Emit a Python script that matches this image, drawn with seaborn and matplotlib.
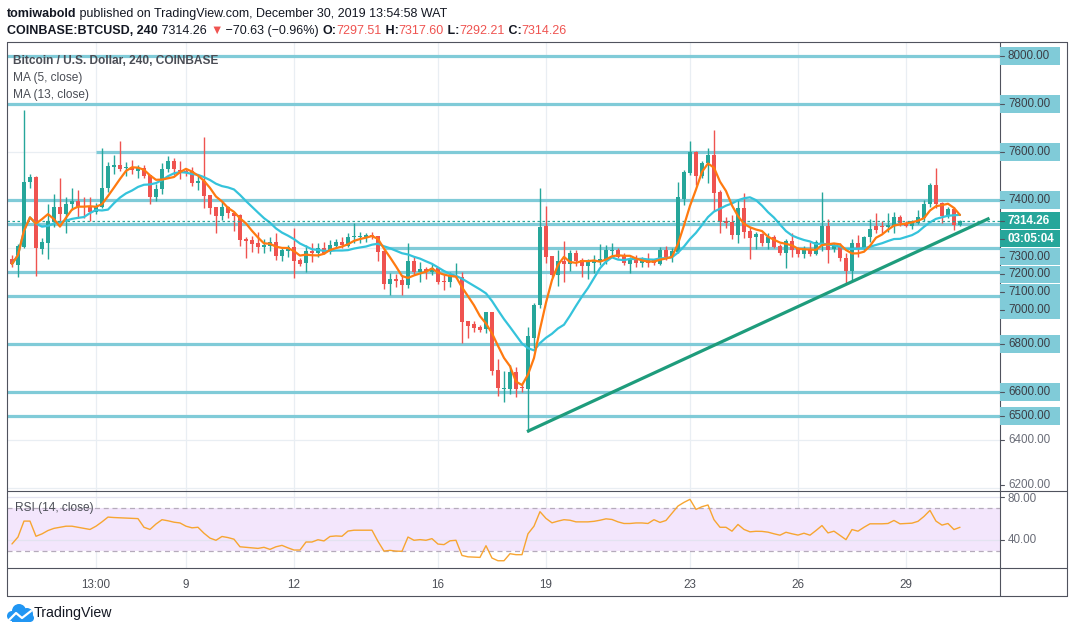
import numpy as np
import pandas as pd
import matplotlib
matplotlib.use("Agg")
import matplotlib.pyplot as plt
import matplotlib.transforms as mtransforms
from matplotlib.lines import Line2D
from matplotlib.patches import Rectangle, Circle
import seaborn as sns

# BTCUSD 240 candles (WAT), first candle Dec 4 05:00
start_time = "2019-12-04 05:00"
opens = [7154, 7129, 7205, 7476, 7497, 7197, 7222, 7310, 7370, 7340,
         7382, 7396, 7375, 7372, 7349, 7372, 7449, 7539, 7546, 7532,
         7539, 7522, 7535, 7504, 7414, 7444, 7528, 7562, 7525, 7520,
         7522, 7472, 7479, 7421, 7371, 7335, 7371, 7347, 7337, 7237,
         7233, 7222, 7205, 7210, 7226, 7168, 7189, 7203, 7150, 7137,
         7187, 7179, 7199, 7183, 7210, 7226, 7210, 7245, 7247, 7247,
         7254, 7250, 7189, 7050, 7071, 7067, 7046, 7146, 7101, 7112,
         7101, 7115, 7064, 7057, 7078, 7078, 6896, 6882, 6872, 6862,
         6932, 6692, 6612, 6612, 6685, 6621, 6612, 6824, 6962, 7292,
         7167, 7087, 7146, 7133, 7178, 7150, 7126, 7139, 7143, 7150,
         7189, 7192, 7167, 7133, 7157, 7136, 7150, 7150, 7133, 7192,
         7161, 7185, 7404, 7514, 7601, 7500, 7553, 7587, 7435, 7314,
         7310, 7254, 7365, 7272, 7245, 7258, 7222, 7245, 7208, 7181,
         7231, 7199, 7175, 7195, 7175, 7220, 7292, 7195, 7208, 7157,
         7105, 7220, 7195, 7245, 7292, 7290, 7287, 7292, 7331, 7305,
         7292, 7305, 7324, 7383, 7462, 7389, 7333, 7361, 7297.51]
highs = [7171, 7215, 7775, 7510, 7500, 7243, 7383, 7425, 7493, 7414,
         7449, 7442, 7414, 7414, 7386, 7615, 7560, 7587, 7646, 7560,
         7567, 7546, 7546, 7504, 7465, 7553, 7583, 7575, 7562, 7530,
         7536, 7501, 7664, 7421, 7371, 7396, 7375, 7350, 7340, 7245,
         7250, 7265, 7236, 7247, 7261, 7205, 7212, 7282, 7157, 7212,
         7222, 7220, 7226, 7233, 7236, 7247, 7261, 7303, 7268, 7264,
         7265, 7250, 7192, 7094, 7090, 7087, 7220, 7168, 7140, 7122,
         7132, 7122, 7087, 7101, 7136, 7099, 6896, 6896, 6879, 6933,
         6933, 6737, 6689, 6712, 6705, 6636, 6872, 6971, 7449, 7375,
         7167, 7192, 7230, 7192, 7192, 7157, 7153, 7171, 7217, 7212,
         7222, 7199, 7178, 7164, 7171, 7161, 7178, 7155, 7203, 7208,
         7199, 7476, 7525, 7646, 7605, 7564, 7618, 7692, 7440, 7331,
         7337, 7400, 7430, 7289, 7268, 7264, 7261, 7254, 7217, 7236,
         7261, 7205, 7208, 7226, 7233, 7435, 7320, 7222, 7220, 7181,
         7236, 7254, 7250, 7320, 7345, 7314, 7345, 7351, 7337, 7312,
         7317, 7358, 7400, 7469, 7532, 7392, 7370, 7370, 7317.60]
lows = [7121, 7079, 7200, 7451, 7085, 7174, 7153, 7289, 7303, 7261,
        7358, 7326, 7326, 7312, 7340, 7368, 7432, 7510, 7521, 7500,
        7510, 7490, 7490, 7383, 7396, 7425, 7515, 7505, 7486, 7500,
        7458, 7442, 7368, 7340, 7264, 7317, 7324, 7272, 7210, 7157,
        7185, 7181, 7178, 7189, 7150, 7147, 7164, 7074, 7125, 7101,
        7143, 7164, 7174, 7175, 7199, 7199, 7205, 7222, 7220, 7226,
        7236, 7146, 7030, 7004, 7039, 7004, 7032, 7087, 7057, 7071,
        7087, 7049, 7025, 7039, 7074, 6803, 6826, 6849, 6851, 6844,
        6671, 6585, 6557, 6590, 6581, 6601, 6435, 6782, 6950, 7136,
        7080, 7042, 7057, 7105, 7125, 7080, 7071, 7094, 7129, 7133,
        7161, 7157, 7129, 7097, 7122, 7122, 7122, 7130, 7129, 7150,
        7143, 7178, 7379, 7504, 7462, 7492, 7469, 7355, 7261, 7282,
        7236, 7220, 7240, 7153, 7195, 7208, 7195, 7199, 7171, 7115,
        7164, 7164, 7157, 7167, 7171, 7189, 7139, 7185, 7146, 7053,
        7067, 7161, 7192, 7226, 7261, 7264, 7268, 7261, 7292, 7286,
        7278, 7300, 7314, 7372, 7365, 7305, 7325, 7275, 7292.21]
closes = [7133, 7208, 7474, 7495, 7199, 7225, 7312, 7370, 7340, 7383,
          7396, 7372, 7370, 7349, 7372, 7449, 7542, 7546, 7529, 7539,
          7525, 7535, 7501, 7414, 7446, 7529, 7562, 7528, 7515, 7515,
          7472, 7479, 7418, 7368, 7335, 7371, 7344, 7335, 7233, 7229,
          7217, 7205, 7212, 7226, 7167, 7192, 7203, 7147, 7133, 7187,
          7179, 7199, 7181, 7212, 7226, 7212, 7247, 7251, 7251, 7254,
          7247, 7185, 7050, 7071, 7064, 7046, 7146, 7101, 7112, 7101,
          7115, 7060, 7057, 7085, 7085, 6893, 6876, 6868, 6858, 6932,
          6689, 6615, 6617, 6685, 6612, 6615, 6833, 6962, 7286, 7164,
          7087, 7146, 7133, 7178, 7147, 7125, 7143, 7147, 7153, 7192,
          7192, 7164, 7136, 7153, 7136, 7153, 7139, 7136, 7192, 7161,
          7187, 7411, 7518, 7601, 7500, 7555, 7587, 7431, 7310, 7305,
          7254, 7365, 7268, 7240, 7258, 7222, 7247, 7205, 7181, 7231,
          7192, 7175, 7195, 7175, 7224, 7292, 7192, 7212, 7157, 7105,
          7220, 7195, 7245, 7278, 7275, 7287, 7296, 7331, 7303, 7292,
          7312, 7331, 7383, 7462, 7383, 7333, 7361, 7296, 7314.26]

# RSI (14, close) as drawn in the lower pane
rsi_values = [36.6, 43, 57.7, 57.7, 43.7, 45.9, 49, 51, 52, 53,
              53, 52, 51, 50, 53, 57, 61.4, 61, 60.8, 60.5,
              60.2, 60, 52, 50, 55, 59, 58, 56.7, 56, 53,
              51.5, 52, 46.5, 42, 40, 43.5, 42.5, 41, 34, 33.5,
              33, 32.5, 33.5, 31.6, 34, 35.3, 33, 31, 31, 38.4,
              38.4, 40.5, 39.4, 43.5, 44, 43.7, 48.5, 49.3, 49.3, 49.3,
              49.3, 39, 30, 30.7, 30, 29.8, 43, 40, 40.6, 40,
              41.5, 36.5, 36, 39.5, 40, 26, 24.7, 24.4, 24.2, 35,
              23.6, 21.1, 21.1, 27.6, 26.7, 26.7, 46, 53, 66.4, 60.2,
              56.1, 57.7, 59, 58.5, 57, 57, 57, 57.5, 58.5, 59.8,
              59.2, 57, 55.5, 55.5, 56, 56, 55.5, 59, 56.5, 58.3,
              65, 71.6, 75, 77.8, 68.5, 71, 72.6, 59, 52, 52,
              48.4, 54.6, 50, 47.8, 48.3, 48.2, 47.5, 46, 44.7, 47.4,
              46, 44.8, 46.5, 44.7, 49, 53.6, 46.8, 48.4, 44.5, 40.6,
              49.9, 48.4, 52, 55.2, 55.2, 55.2, 55.5, 58.3, 55.2, 55.5,
              55.8, 57.5, 62, 67.6, 57.7, 54, 55.5, 49.9, 52]

# horizontal levels drawn by the author, with the time each one starts
level_prices = [8000, 7800, 7600, 7400, 7300, 7200, 7100, 7000, 6800, 6600, 6500]
level_starts = ["2019-12-04 01:00", "2019-12-04 01:00", "2019-12-06 13:00",
                "2019-12-04 01:00", "2019-12-04 01:00", "2019-12-14 13:00",
                "2019-12-04 01:00", "2019-12-04 01:00", "2019-12-04 01:00",
                "2019-12-04 01:00", "2019-12-04 01:00"]

# rising trendline
trend_times = ["2019-12-18 12:20", "2019-12-31 08:40"]
trend_prices = [6435, 7324]

# time axis labels
tick_times = ["2019-12-06 13:00", "2019-12-09 01:00", "2019-12-12 01:00", "2019-12-16 01:00",
              "2019-12-19 01:00", "2019-12-23 01:00", "2019-12-26 01:00", "2019-12-29 01:00"]
tick_labels = ["13:00", "9", "12", "16", "19", "23", "26", "29"]

# price scale labels: text, price where the box sits, style
scale_labels = [("8000.00", 8000, "lvl"), ("7800.00", 7800, "lvl"), ("7600.00", 7600, "lvl"),
                ("7400.00", 7400, "lvl"), ("7314.26", 7314.26, "last"), ("03:05:04", 7239, "last"),
                ("7300.00", 7164, "lvl"), ("7200.00", 7090, "lvl"), ("7100.00", 7015, "lvl"),
                ("7000.00", 6942, "lvl"), ("6800.00", 6800, "lvl"), ("6600.00", 6600, "lvl"),
                ("6500.00", 6500, "lvl"), ("6400.00", 6400, "plain"), ("6200.00", 6212, "plain")]

GREEN = "#26A69A"
RED = "#EF5350"
LEVEL = "#80CBD8"
FRAME = "#50535E"
GRID = "#E9EEF3"
TXT = "#131722"

sns.set_theme(style="white")
plt.rcParams["font.family"] = ["Liberation Sans", "DejaVu Sans"]

W, H = 1073, 633
fig = plt.figure(figsize=(W / 100, H / 100), dpi=100)
fig.patch.set_facecolor("white")


def fx(x):
    return x / W


def fy(y):
    return 1 - y / H


def box(x0, y0, x1, y1):
    return [fx(x0), fy(y1), (x1 - x0) / W, (y1 - y0) / H]


times = pd.date_range(start_time, periods=len(closes), freq="4h")


def t2i(t):
    return (pd.Timestamp(t) - times[0]) / pd.Timedelta("4h")


df = pd.DataFrame({"time": times, "open": opens, "high": highs, "low": lows, "close": closes})
df["i"] = np.arange(len(df))
df["ma5"] = df["close"].rolling(5, min_periods=1).mean()
df["ma13"] = df["close"].rolling(13, min_periods=1).mean()
df["rsi"] = rsi_values

ax = fig.add_axes(box(7, 42, 1000, 491))
rx = fig.add_axes(box(7, 491, 1000, 568))
for a in (ax, rx):
    for s in a.spines.values():
        s.set_visible(False)
    a.set_xticks([])
    a.set_yticks([])
    a.set_xlim(-0.83, 164.67)

ax.set_ylim(6187.5, 8058.3)
rx.set_ylim(14.4, 85.5)

tick_idx = [t2i(t) for t in tick_times]

# grid
for ti in tick_idx:
    ax.axvline(ti, color=GRID, lw=0.9, zorder=0)
    rx.axvline(ti, color=GRID, lw=0.9, zorder=0)
for p in range(6200, 8001, 200):
    ax.axhline(p, color=GRID, lw=0.9, zorder=0)

# author's levels
for p, st in zip(level_prices, level_starts):
    ax.hlines(p, max(t2i(st), -0.83), 164.67, color=LEVEL, lw=2.3, zorder=1)

# candles
up = df["close"] >= df["open"]
cols = np.where(up, GREEN, RED)
ax.vlines(df["i"], df["low"], df["high"], colors=cols, lw=1.0, zorder=2)
body = (df["close"] - df["open"]).abs().clip(lower=4)
ax.bar(df["i"], body, bottom=np.minimum(df["open"], df["close"]), width=0.72,
       color=cols, linewidth=0, zorder=3)

# moving averages
sns.lineplot(data=df, x="i", y="ma13", ax=ax, color="#35C3DB", lw=1.6, zorder=4)
sns.lineplot(data=df, x="i", y="ma5", ax=ax, color="#FF7A10", lw=1.6, zorder=5)

# last price dotted line
ax.axhline(closes[-1], color=GREEN, lw=0.9, ls=(0, (2, 2)), zorder=4)

# trendline
ax.plot([t2i(t) for t in trend_times], trend_prices, color="#1E9C7C", lw=2.3,
        solid_capstyle="butt", zorder=6)
ax.set_xlabel("")
ax.set_ylabel("")

# RSI pane
rx.axhspan(30, 70, color="#F3E6FC", lw=0, zorder=0)
for v in (80, 40):
    rx.axhline(v, color="#E3E3F0", lw=0.9, zorder=1)
for v in (70, 30):
    rx.axhline(v, color="#B5ABBB", lw=0.9, ls=(0, (4, 3)), zorder=1)
sns.lineplot(data=df, x="i", y="rsi", ax=rx, color="#F7A531", lw=1.0, zorder=3)
rx.set_xlabel("")
rx.set_ylabel("")
fig.text(fx(15), fy(508), "RSI (14, close)", fontsize=8.6, color="#4C4F57",
         va="center", ha="left")


# frame lines
def fline(x0, y0, x1, y1, color=FRAME, lw=0.8):
    fig.add_artist(Line2D([fx(x0), fx(x1)], [fy(y0), fy(y1)], transform=fig.transFigure,
                          color=color, lw=lw))


fline(7, 42, 1067, 42)
fline(7, 596, 1067, 596)
fline(7, 42, 7, 596)
fline(1067, 42, 1067, 596)
fline(1000, 42, 1000, 596)
fline(7, 491, 1067, 491)
fline(7, 568, 1067, 568)

# clip regions for the two price scales
main_clip = mtransforms.TransformedBbox(
    mtransforms.Bbox([[fx(1000), fy(491)], [fx(1067), fy(42)]]), fig.transFigure)
rsi_clip = mtransforms.TransformedBbox(
    mtransforms.Bbox([[fx(1000), fy(568)], [fx(1067), fy(491)]]), fig.transFigure)

# price scale labels
trans = mtransforms.blended_transform_factory(fig.transFigure, ax.transData)
bh = 17.5 / 0.24
for txt, p, kind in scale_labels:
    if kind != "plain":
        bg = LEVEL if kind == "lvl" else GREEN
        fig.add_artist(Rectangle((fx(1000), p - bh / 2), fx(1060) - fx(1000), bh,
                                 transform=trans, facecolor=bg, edgecolor="none", zorder=3))
    fc = "white" if kind == "last" else ("#3C3F47" if kind == "lvl" else "#6A6D78")
    fw = "bold" if kind == "last" else "normal"
    fig.add_artist(Line2D([fx(1000), fx(1004)], [p, p], transform=trans, color=FRAME,
                          lw=0.8, zorder=4))
    t = fig.text(fx(1008), p, txt, transform=trans, fontsize=8.4, color=fc, fontweight=fw,
                 va="center", ha="left", zorder=5)
    t.set_clip_box(main_clip)
    t.set_clip_on(True)

rtrans = mtransforms.blended_transform_factory(fig.transFigure, rx.transData)
for v in (80, 40):
    fig.add_artist(Line2D([fx(1000), fx(1004)], [v, v], transform=rtrans, color=FRAME, lw=0.8))
    t = fig.text(fx(1008), v - (1.5 if v == 80 else 0), f"{v:.2f}", transform=rtrans,
                 fontsize=8.4, color="#6A6D78", va="center", ha="left")
    t.set_clip_box(rsi_clip)
    t.set_clip_on(True)

# time axis labels
ttrans = mtransforms.blended_transform_factory(ax.transData, fig.transFigure)
for ti, lab in zip(tick_idx, tick_labels):
    fig.text(ti, fy(585), lab, transform=ttrans, fontsize=8.4, color="#4C4F57",
             ha="center", va="center")

# pane legend
fig.text(fx(13), fy(61), "Bitcoin / U.S. Dollar, 240, COINBASE", fontsize=8.6,
         color="#4A4D55", fontweight="bold", va="center")
fig.text(fx(13), fy(78), "MA (5, close)", fontsize=8.6, color="#4A4D55", va="center")
fig.text(fx(13), fy(95), "MA (13, close)", fontsize=8.6, color="#4A4D55", va="center")

# header lines made of coloured runs
hax = fig.add_axes([0, 0, 1, 1])
hax.axis("off")
hax.set_zorder(-1)


def runs(parts, x, y, size=9.0):
    prev = hax.text(fx(x), fy(y), parts[0][0], color=parts[0][1], fontweight=parts[0][2],
                    fontsize=size, transform=fig.transFigure, va="baseline", ha="left")
    for txt, col, wt in parts[1:]:
        prev = hax.annotate(txt, xy=(1, 0), xycoords=prev, va="bottom", ha="left",
                            color=col, fontweight=wt, fontsize=size, annotation_clip=False)


runs([("tomiwabold", TXT, "bold"),
      (" published on TradingView.com, December 30, 2019 13:54:58 WAT", TXT, "normal")], 7, 17)
runs([("COINBASE:BTCUSD, 240", TXT, "bold"), (" 7314.26 ", TXT, "normal"),
      ("\u25BC", RED, "normal"), (" \u221270.63 (\u22120.96%) ", TXT, "normal"),
      ("O:", TXT, "bold"), ("7297.51", RED, "normal"), (" H:", TXT, "bold"),
      ("7317.60", RED, "normal"), (" L:", TXT, "bold"), ("7292.21", RED, "normal"),
      (" C:", TXT, "bold"), ("7314.26", RED, "normal")], 7, 34)

# TradingView logo
lax = fig.add_axes(box(6, 602, 34, 624))
lax.set_xlim(0, 28)
lax.set_ylim(22, 0)
lax.axis("off")
blue = "#2196F3"
for cx, cy, r in [(6, 14, 5), (13, 9, 7), (21, 12, 6), (24, 16, 4)]:
    lax.add_patch(Circle((cx, cy), r, color=blue, lw=0))
lax.add_patch(Rectangle((6, 13), 18, 7, color=blue, lw=0))
lax.plot([3, 10, 16, 25], [18, 11, 16, 9], color="white", lw=1.6)
fig.text(fx(34), fy(613), "TradingView", fontsize=10.2, color=TXT, va="center", ha="left")

fig.savefig("out.png", dpi=100, facecolor="white")
